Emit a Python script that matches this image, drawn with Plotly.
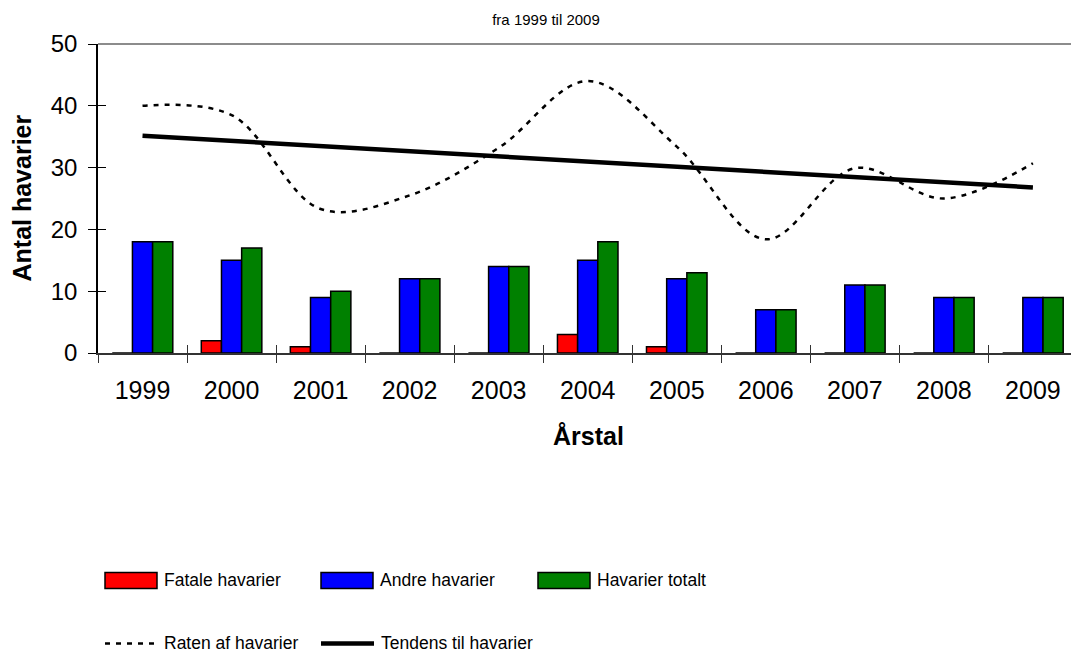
import plotly.graph_objects as go

years = ["1999", "2000", "2001", "2002", "2003", "2004", "2005", "2006", "2007", "2008", "2009"]
fatale = [0, 2, 1, 0, 0, 3, 1, 0, 0, 0, 0]
andre = [18, 15, 9, 12, 14, 15, 12, 7, 11, 9, 9]
totalt = [18, 17, 10, 12, 14, 18, 13, 7, 11, 9, 9]
raten = [40, 38.5, 23.3, 25.5, 33.2, 44, 33.4, 18.4, 29.9, 25.0, 30.7]
tendens_x = ["1999", "2009"]
tendens_y = [35.15, 26.8]

W, H = 1071, 657
L, R_EDGE, T, B = 98, 1071, 44, 353.3
PW, PH = R_EDGE - L, B - T

def px(x):
    return (x - L) / PW

def py(y):
    return (B - y) / PH

FONT = "Arial, 'Liberation Sans', sans-serif"

fig = go.Figure()
bar_line = dict(color="black", width=1.5)
fig.add_trace(go.Bar(x=years, y=fatale, name="Fatale havarier", marker=dict(color="#FF0000", line=bar_line)))
fig.add_trace(go.Bar(x=years, y=andre, name="Andre havarier", marker=dict(color="#0000FF", line=bar_line)))
fig.add_trace(go.Bar(x=years, y=totalt, name="Havarier totalt", marker=dict(color="#008000", line=bar_line)))
fig.add_trace(go.Scatter(x=years, y=raten, name="Raten af havarier", mode="lines",
                         line=dict(color="black", width=2.5, dash="5px,6px", shape="spline", smoothing=1.0)))
fig.add_trace(go.Scatter(x=tendens_x, y=tendens_y, name="Tendens til havarier", mode="lines",
                         line=dict(color="black", width=4.5)))
# invisible trace that carries the overlay axes (inner half of the crossing tick marks)
fig.add_trace(go.Scatter(x=years, y=totalt, xaxis="x2", yaxis="y2", mode="none",
                         hoverinfo="skip", showlegend=False))

xrange = [-0.5, -0.5 + PW / 89.04]

fig.update_layout(
    width=W, height=H, autosize=False,
    margin=dict(l=L, r=W - R_EDGE, t=T, b=H - B),
    paper_bgcolor="white", plot_bgcolor="white",
    showlegend=False,
    barmode="group", bargap=0.32, bargroupgap=0,
    font=dict(family=FONT, color="black"),
    title=dict(text="fra 1999 til 2009", x=546 / W, xref="container", xanchor="center",
               y=1 - 20 / H, yref="container", yanchor="middle",
               font=dict(size=15, family=FONT, color="black")),
    xaxis=dict(type="category", categoryarray=years, range=xrange,
               showgrid=False, zeroline=False,
               showline=True, linecolor="#333333", linewidth=1.5,
               ticks="outside", ticklen=8, tickwidth=1, tickcolor="#333333",
               tickson="boundaries", ticklabelstandoff=14,
               tickfont=dict(size=25, family=FONT, color="black")),
    yaxis=dict(range=[0, 50], dtick=10, showgrid=False, zeroline=False,
               showline=True, linecolor="black", linewidth=1.5,
               ticks="outside", ticklen=8, tickwidth=1, tickcolor="black",
               ticklabelstandoff=6,
               tickfont=dict(size=24, family=FONT, color="black")),
    xaxis2=dict(type="category", categoryarray=years, range=xrange, overlaying="x", anchor="y",
                showgrid=False, zeroline=False, showline=False, showticklabels=False,
                ticks="inside", ticklen=8, tickwidth=1, tickcolor="#333333", tickson="boundaries"),
    yaxis2=dict(range=[0, 50], dtick=10, overlaying="y", side="left", anchor="x",
                showgrid=False, zeroline=False, showline=False, showticklabels=False,
                ticks="inside", ticklen=8, tickwidth=1, tickcolor="black"),
)

shapes = [
    dict(type="line", xref="paper", yref="paper", x0=0, x1=1, y0=1, y1=1,
         line=dict(color="#8c8c8c", width=2)),
]
annotations = [
    dict(text="<b>Antal havarier</b>", xref="paper", yref="paper", x=px(21), y=0.5,
         textangle=-90, showarrow=False, xanchor="center", yanchor="middle",
         font=dict(size=25, family=FONT, color="black")),
    dict(text="<b>Årstal</b>", xref="paper", yref="paper", x=px(588), y=py(436),
         showarrow=False, xanchor="center", yanchor="middle",
         font=dict(size=25, family=FONT, color="black")),
]

LEG_SIZE = 17.5
leg_rects = [(105, "#FF0000", "Fatale havarier"), (321, "#0000FF", "Andre havarier"), (538, "#008000", "Havarier totalt")]
for x0, col, label in leg_rects:
    shapes.append(dict(type="rect", xref="paper", yref="paper", x0=px(x0), x1=px(x0 + 52),
                       y0=py(589), y1=py(573), fillcolor=col, line=dict(color="black", width=1.5)))
    annotations.append(dict(text=label, xref="paper", yref="paper", x=px(x0 + 57), y=py(581),
                            showarrow=False, xanchor="left", yanchor="middle",
                            font=dict(size=LEG_SIZE, family=FONT, color="black")))
shapes.append(dict(type="line", xref="paper", yref="paper", x0=px(105), x1=px(157), y0=py(644), y1=py(644),
                   line=dict(color="black", width=2.5, dash="5px,6px")))
annotations.append(dict(text="Raten af havarier", xref="paper", yref="paper", x=px(162), y=py(644),
                        showarrow=False, xanchor="left", yanchor="middle",
                        font=dict(size=LEG_SIZE, family=FONT, color="black")))
shapes.append(dict(type="line", xref="paper", yref="paper", x0=px(321), x1=px(374), y0=py(644), y1=py(644),
                   line=dict(color="black", width=4.5)))
annotations.append(dict(text="Tendens til havarier", xref="paper", yref="paper", x=px(379), y=py(644),
                        showarrow=False, xanchor="left", yanchor="middle",
                        font=dict(size=LEG_SIZE, family=FONT, color="black")))

fig.update_layout(shapes=shapes, annotations=annotations)

fig.write_html("out.html", config={"displayModeBar": False},
               post_script="document.body.style.margin='0';document.body.style.overflow='hidden';")
